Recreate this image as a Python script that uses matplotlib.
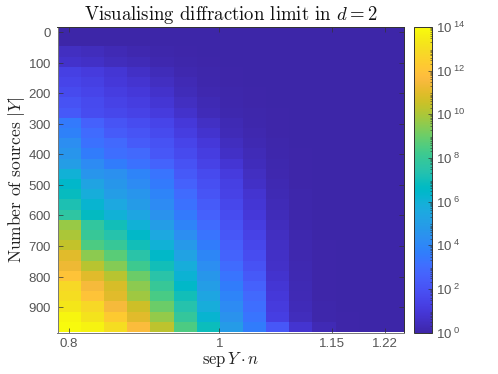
import numpy as np
import matplotlib
matplotlib.use('Agg')
import matplotlib.pyplot as plt
from matplotlib.colors import LinearSegmentedColormap, LogNorm
from matplotlib.ticker import LogLocator, NullFormatter

plt.rcParams['font.family'] = ['Liberation Sans', 'DejaVu Sans']
plt.rcParams['mathtext.fontset'] = 'cm'
plt.rcParams['axes.formatter.use_mathtext'] = True

sep_values = [0.8, 0.8307, 0.8614, 0.8921, 0.9229, 0.9536, 0.9843, 1.015, 1.0457, 1.0764, 1.1071, 1.1379, 1.1686, 1.1993, 1.23]
sources = [33.33 * i for i in range(30)]
x_ticks = [0.8, 1, 1.15, 1.22]
x_tick_labels = ['0.8', '1', '1.15', '1.22']
y_ticks = [0, 100, 200, 300, 400, 500, 600, 700, 800, 900]
cbar_ticks = [1e0, 1e2, 1e4, 1e6, 1e8, 1e10, 1e12, 1e14]

# log10 of the value, one list per column, top row first
col_0 = [.02, .02, .5, .7, 1.3, 1.5, 1.7, 2, 2.3, 3.5, 3.8, 4.3, 4.6, 5, 6, 6.4, 6.8, 7.2, 7.7, 9.7, 10, 10.4, 11, 11.3, 12, 12.8, 13, 13.3, 13.8, 14]
col_1 = [.02, .02, .4, .6, 1.1, 1.3, 1.5, 1.7, 1.8, 2.6, 3, 3.2, 3.6, 4.2, 4.6, 5.3, 5.8, 6.2, 6.7, 7.8, 8, 8.5, 9.5, 10.2, 11, 11.5, 12, 12.8, 13.2, 13.7]
col_2 = [.02, .02, .25, .4, .9, 1, 1.2, 1.4, 1.6, 2.1, 2.4, 2.9, 3.1, 3.6, 4.4, 4.7, 5, 5.5, 6, 7, 7.4, 8, 8.7, 9.4, 10.2, 10.8, 11, 11.5, 12.3, 13]
col_3 = [.02, .02, .15, .3, .6, .8, 1, 1.2, 1.4, 1.8, 2.1, 2.4, 2.9, 3.2, 3.9, 4.2, 4.6, 4.9, 5.4, 6, 6.5, 7, 7.5, 8.2, 9, 9.5, 9.8, 10.6, 11, 11.7]
col_4 = [.01, .01, .06, .15, .35, .5, .7, .9, 1.1, 1.5, 1.7, 2, 2.2, 2.7, 3.3, 3.5, 3.9, 4.2, 4.5, 5, 5.5, 6, 6.5, 7, 7.5, 8, 8.4, 9, 9.6, 10.3]
col_5 = [.01, .01, .03, .07, .15, .25, .35, .5, .7, 1, 1.2, 1.5, 1.7, 2, 2.3, 2.6, 3, 3.2, 3.5, 3.9, 4.3, 4.8, 5.2, 5.8, 6.1, 6.5, 7, 7.4, 7.9, 8.5]
col_6 = [.01, .01, .02, .03, .06, .1, .15, .22, .32, .55, .75, 1, 1.2, 1.4, 1.7, 1.9, 2.1, 2.4, 2.6, 3, 3.3, 3.6, 4, 4.3, 4.7, 5, 5.4, 5.8, 6.2, 6.9]
col_7 = [.01, .01, .01, .02, .03, .04, .06, .09, .13, .22, .3, .45, .6, .85, 1.1, 1.3, 1.4, 1.6, 1.8, 2, 2.2, 2.5, 2.7, 3, 3.3, 3.6, 3.9, 4.2, 4.5, 4.9]
col_8 = [.01, .01, .01, .01, .02, .02, .03, .04, .06, .1, .14, .2, .28, .38, .5, .6, .8, .9, 1, 1.2, 1.4, 1.6, 1.8, 2, 2.3, 2.6, 2.9, 3.1, 3.3, 3.6]
col_9 = [.01, .01, .01, .01, .01, .01, .02, .02, .03, .04, .05, .07, .1, .13, .16, .2, .24, .3, .35, .42, .5, .55, .6, .65, .75, .9, 1, 1.1, 1.25, 2.2]
col_10 = [.01, .01, .01, .01, .01, .01, .01, .01, .01, .02, .02, .02, .03, .03, .04, .05, .06, .07, .08, .1, .12, .14, .16, .18, .2, .23, .27, .32, .4, .8]
col_11 = [.01, .01, .01, .01, .01, .01, .01, .01, .01, .01, .01, .01, .01, .01, .01, .01, .02, .02, .02, .02, .02, .03, .03, .03, .04, .04, .05, .06, .08, .25]
col_12 = [.01] * 24 + [.01, .02, .02, .02, .03, .05]
col_13 = [.01] * 30
col_14 = [.01] * 30

# parula
parula_colors = [
    [0.2422, 0.1504, 0.6603], [0.2504, 0.1650, 0.7076], [0.2578, 0.1818, 0.7511], [0.2647, 0.1978, 0.7952],
    [0.2706, 0.2147, 0.8364], [0.2751, 0.2342, 0.8710], [0.2783, 0.2559, 0.8991], [0.2803, 0.2782, 0.9221],
    [0.2813, 0.3006, 0.9414], [0.2810, 0.3228, 0.9579], [0.2795, 0.3447, 0.9717], [0.2760, 0.3667, 0.9829],
    [0.2699, 0.3892, 0.9906], [0.2602, 0.4123, 0.9952], [0.2440, 0.4358, 0.9988], [0.2206, 0.4603, 0.9973],
    [0.1963, 0.4847, 0.9892], [0.1834, 0.5074, 0.9798], [0.1786, 0.5289, 0.9682], [0.1764, 0.5499, 0.9520],
    [0.1687, 0.5703, 0.9359], [0.1540, 0.5902, 0.9218], [0.1460, 0.6091, 0.9079], [0.1380, 0.6276, 0.8973],
    [0.1248, 0.6459, 0.8883], [0.1113, 0.6635, 0.8763], [0.0952, 0.6798, 0.8598], [0.0689, 0.6948, 0.8394],
    [0.0297, 0.7082, 0.8163], [0.0036, 0.7203, 0.7917], [0.0067, 0.7312, 0.7660], [0.0433, 0.7411, 0.7394],
    [0.0964, 0.7500, 0.7120], [0.1408, 0.7584, 0.6842], [0.1717, 0.7670, 0.6554], [0.1938, 0.7758, 0.6251],
    [0.2161, 0.7843, 0.5923], [0.2470, 0.7918, 0.5567], [0.2906, 0.7973, 0.5188], [0.3406, 0.8008, 0.4789],
    [0.3909, 0.8029, 0.4354], [0.4456, 0.8024, 0.3909], [0.5044, 0.7993, 0.3480], [0.5616, 0.7942, 0.3045],
    [0.6174, 0.7876, 0.2612], [0.6720, 0.7793, 0.2227], [0.7242, 0.7698, 0.1910], [0.7738, 0.7598, 0.1646],
    [0.8203, 0.7498, 0.1535], [0.8634, 0.7406, 0.1596], [0.9035, 0.7330, 0.1774], [0.9393, 0.7288, 0.2100],
    [0.9728, 0.7309, 0.2394], [0.9956, 0.7434, 0.2371], [0.9970, 0.7659, 0.2199], [0.9952, 0.7861, 0.1964],
    [0.9892, 0.8081, 0.1780], [0.9786, 0.8317, 0.1630], [0.9676, 0.8558, 0.1450], [0.9610, 0.8800, 0.1200],
    [0.9597, 0.9050, 0.1000], [0.9628, 0.9300, 0.0800], [0.9690, 0.9600, 0.0640], [0.9763, 0.9831, 0.0538],
]
parula = LinearSegmentedColormap.from_list('parula', parula_colors, N=512)

columns = [col_0, col_1, col_2, col_3, col_4, col_5, col_6, col_7, col_8, col_9, col_10, col_11, col_12, col_13, col_14]
values = 10.0 ** np.array(columns).T

dx = sep_values[1] - sep_values[0]
dy = sources[1] - sources[0]
grey = '#555555'

fig = plt.figure(figsize=(4.98, 3.74), dpi=100)
W, H = 498, 374
ax = fig.add_axes([57.5 / W, 1 - 332.5 / H, 346.5 / W, 305.5 / H])
im = ax.imshow(values, cmap=parula, norm=LogNorm(1, 1e14), aspect='auto', interpolation='nearest',
               extent=[sep_values[0] - dx / 2, sep_values[-1] + dx / 2, sources[-1] + dy / 2, sources[0] - dy / 2])

ax.set_xticks(x_ticks)
ax.set_xticklabels(x_tick_labels)
ax.set_yticks(y_ticks)
ax.tick_params(direction='in', length=3.5, width=0.5, color='#333333', labelcolor=grey, labelsize=9.5,
               top=True, right=True, pad=4)
for s in ax.spines.values():
    s.set_linewidth(0.7)
    s.set_color('#333333')
ax.spines['left'].set_color('#777777')
ax.spines['bottom'].set_color('#777777')

ax.set_title(r'Visualising diffraction limit in $d=2$', family='cmr10', fontsize=13.5, pad=5, color='#111111')
ax.set_xlabel(r'$\mathrm{sep}\,Y\cdot n$', fontsize=12, color='#222222', labelpad=0)
ax.set_ylabel(r'Number of sources $|Y|$', family='cmr10', fontsize=12.5, color='#222222', labelpad=1)

cax = fig.add_axes([414 / W, 1 - 332.5 / H, 17.5 / W, 305.5 / H])
cbar = fig.colorbar(im, cax=cax)
cbar.set_ticks(cbar_ticks)
cbar.set_ticklabels(['10$^{\\:\\mathregular{%d}}$' % int(np.log10(t)) for t in cbar_ticks])
cax.yaxis.set_minor_locator(LogLocator(base=10, subs=np.arange(2, 10), numticks=20))
cax.yaxis.set_minor_formatter(NullFormatter())
cax.tick_params(which='major', direction='in', length=3, width=0.5, color='#333333', labelcolor=grey, labelsize=9.5, pad=3)
cax.tick_params(which='minor', direction='in', length=1.5, width=0.4, color='#333333')
cbar.outline.set_linewidth(0.7)
cbar.outline.set_edgecolor('#333333')

fig.savefig('out.png', dpi=100)
